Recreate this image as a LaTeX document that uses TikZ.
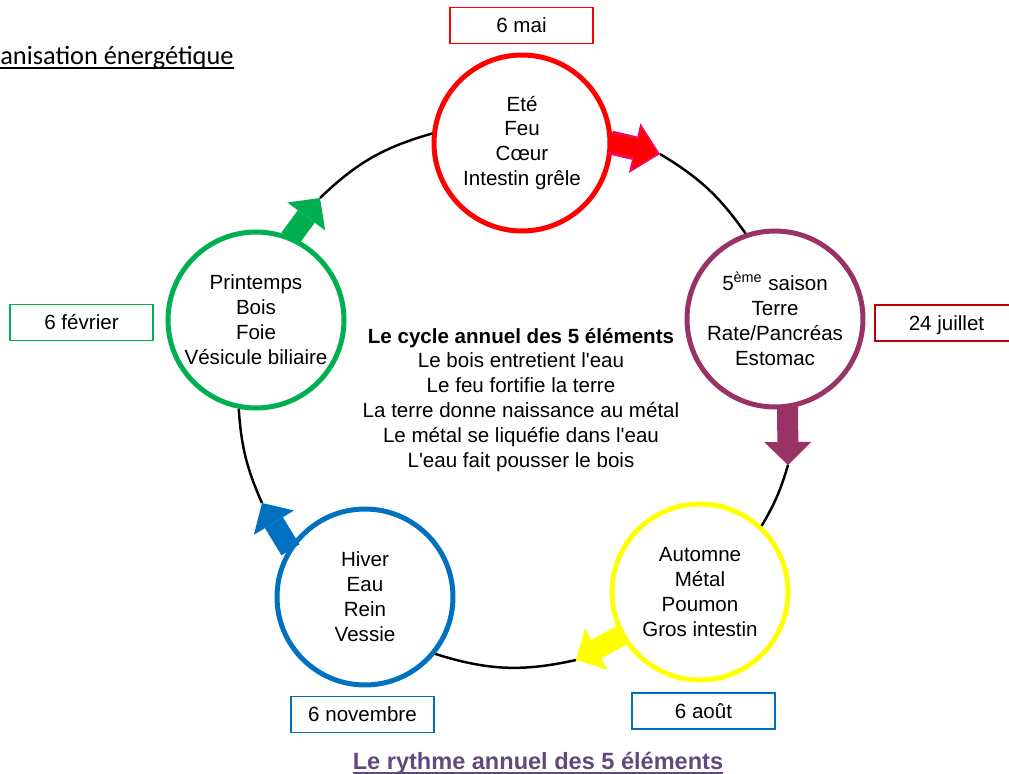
\documentclass[tikz,border=0pt]{standalone}
\usepackage{fontspec}
\setmainfont{Liberation Sans}
\newfontfamily\titrefont{Carlito}
\usepackage{tikz}
\usetikzlibrary{arrows.meta}

\definecolor{rougefeu}{RGB}{255,0,0}
\definecolor{rosefeu}{RGB}{255,0,102}
\definecolor{prune}{RGB}{153,51,102}
\definecolor{jaune}{RGB}{255,255,0}
\definecolor{bleu}{RGB}{0,112,192}
\definecolor{vert}{RGB}{0,176,80}
\definecolor{rougefonce}{RGB}{192,0,0}
\definecolor{violetfonce}{RGB}{96,74,123}

\tikzset{
    saison/.style={circle, draw=#1, line width=0.1cm, fill=white,
    minimum size=3.52cm, inner sep=0pt, align=center,
    font=\fontsize{11.7}{14.2}\selectfont},
    datebox/.style={draw=#1, line width=1.1pt, minimum width=2.86cm,
    minimum height=0.72cm, inner sep=0pt, text height=8.5pt,
    text depth=0pt, font=\fontsize{11.7}{14.2}\selectfont},
    fleche/.style={color=#1, line width=0.42cm, shorten <=-0.05cm,
    -{Triangle[length=0.46cm,width=0.94cm,line width=0pt]}},
    anneau/.style={black, line width=1.4pt}
}

\begin{document}
\begin{tikzpicture}[x=0.02cm, y=-0.02cm]
    \useasboundingbox (0,0) rectangle (1009,774);
    % Titre
    \node[anchor=base west, inner sep=0pt,
    font=\titrefont\fontsize{15}{18}\selectfont] (organisation)
    at (0,65) {anisation énergétique};
    \draw[line width=0.8pt] ([yshift=-1.8pt]organisation.base west)
    -- ([yshift=-1.8pt]organisation.base east);
    % Saisons
    \node[saison=rougefeu] (ete) at (522,143)
    {Eté\\Feu\\Cœur\\Intestin grêle};
    \node[saison=prune] (terre) at (775,319)
    {5\textsuperscript{ème} saison\\Terre\\Rate/Pancréas\\Estomac};
    \node[saison=jaune] (automne) at (700,592)
    {Automne\\Métal\\Poumon\\Gros intestin};
    \node[saison=bleu] (hiver) at (365,597) {Hiver\\Eau\\Rein\\Vessie};
    \node[saison=vert] (printemps) at (256,320)
    {Printemps\\Bois\\Foie\\Vésicule biliaire};
    % Dates
    \node[datebox=rougefeu] (mai) at (521.5,25.5) {6 mai};
    \node[datebox=rougefonce] (juillet) at (946.5,323) {24 juillet};
    \node[datebox=vert] (fevrier) at (81.5,322.5) {6 février};
    \node[datebox=bleu] (novembre) at (362.5,714.5) {6 novembre};
    \node[datebox=bleu] (aout) at (703.5,711) {6 août};
    % Texte du centre
    \node[align=center, font=\fontsize{11.7}{14.2}\selectfont] (texte)
    at (521,400) {\textbf{Le cycle annuel des 5 éléments}\\
    Le bois entretient l\textquotesingle eau\\
    Le feu fortifie la terre\\
    La terre donne naissance au métal\\
    Le métal se liquéfie dans l\textquotesingle eau\\
    L\textquotesingle eau fait pousser le bois};
    % Pointes des fleches
    \coordinate (pointeete) at (660,154);
    \coordinate (pointeterre) at (788,465);
    \coordinate (pointeautomne) at (576,660);
    \coordinate (pointehiver) at (262,503);
    \coordinate (pointeprintemps) at (320,198);
    % Anneau
    \draw[anneau] (pointeprintemps) to[bend left=14] (ete.174);
    \draw[anneau] (pointeete) to[bend left=12] (terre.109);
    \draw[anneau] (pointeterre) to[bend left=7] (automne.47);
    \draw[anneau] (pointeautomne) to[bend left=15] (hiver.-39);
    \draw[anneau] (pointehiver) to[bend left=10] (printemps.259);
    % Fleches
    \draw[fleche=rosefeu, line width=0.48cm,
    -{Triangle[length=0.52cm,width=1.02cm,line width=0pt]}]
    (ete.0) -- (pointeete);
    \draw[fleche=rougefeu, line width=0.38cm, shorten >=0.06cm,
    -{Triangle[length=0.42cm,width=0.86cm,line width=0pt]}]
    (ete.0) -- (pointeete);
    \draw[fleche=prune] (terre.-82) -- (pointeterre);
    \draw[fleche=jaune] (automne.209) -- (pointeautomne);
    \draw[fleche=bleu] (hiver.147) -- (pointehiver);
    \draw[fleche=vert] (printemps.67) -- (pointeprintemps);
    % Titre du bas
    \node[anchor=base, inner sep=0pt, text=violetfonce,
    font=\bfseries\fontsize{13.4}{16}\selectfont] (rythme)
    at (538,769) {Le rythme annuel des 5 éléments};
    \draw[violetfonce, line width=1.1pt] ([yshift=-2.2pt]rythme.base west)
    -- ([yshift=-2.2pt]rythme.base east);
\end{tikzpicture}
\end{document}
